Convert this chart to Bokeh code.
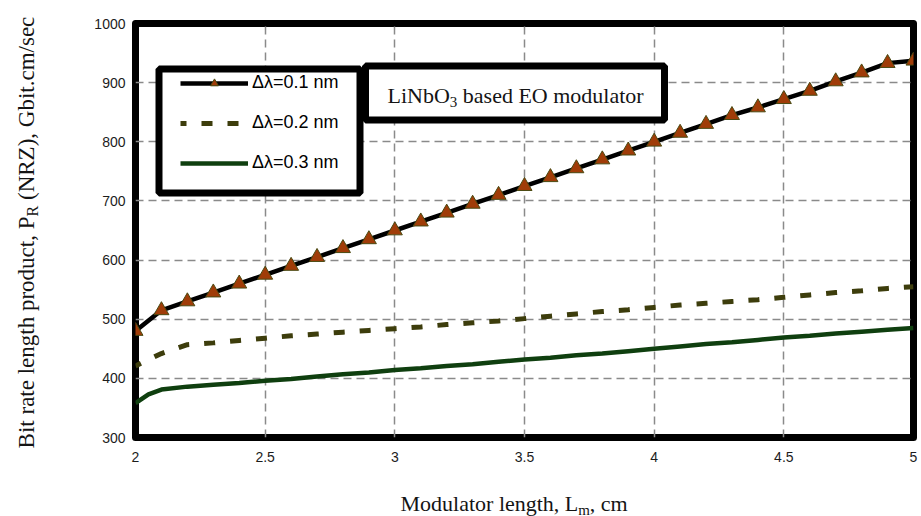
from math import pi

from bokeh.core.properties import value
from bokeh.embed import file_html
from bokeh.layouts import column, row
from bokeh.models import (BoxAnnotation, CustomJSTickFormatter, FixedTicker,
                          Label, Legend, LegendItem, Range1d)
from bokeh.plotting import figure
from bokeh.resources import INLINE

# ---------------------------------------------------------------- data
# Modulator length L_m (cm)
length_cm = [2.0, 2.1, 2.2, 2.3, 2.4, 2.5, 2.6, 2.7, 2.8, 2.9, 3.0,
             3.1, 3.2, 3.3, 3.4, 3.5, 3.6, 3.7, 3.8, 3.9, 4.0,
             4.1, 4.2, 4.3, 4.4, 4.5, 4.6, 4.7, 4.8, 4.9, 5.0]

# Bit rate length product P_R (NRZ), Gbit.cm/sec
pr_01nm = [480, 515, 530, 545, 560, 575, 590, 605, 620, 635, 650,
           665, 680, 695, 710, 725, 740, 755, 770, 785, 800,
           815, 830, 845, 858, 872, 886, 902, 917, 933, 937]

pr_02nm = [421, 442, 457, 460, 464, 468, 472, 475, 478, 481, 484,
           487, 491, 494, 497, 501, 505, 509, 513, 516, 520,
           524, 527, 530, 533, 537, 541, 545, 548, 552, 555]

length_cm_03 = [2.0, 2.05, 2.1, 2.2, 2.3, 2.4, 2.5, 2.6, 2.7, 2.8, 2.9, 3.0,
                3.1, 3.2, 3.3, 3.4, 3.5, 3.6, 3.7, 3.8, 3.9, 4.0,
                4.1, 4.2, 4.3, 4.4, 4.5, 4.6, 4.7, 4.8, 4.9, 5.0]
pr_03nm = [358, 373, 381, 386, 389, 392, 396, 399, 403, 407, 410, 414,
           417, 421, 424, 428, 432, 435, 439, 442, 446, 450,
           454, 458, 461, 465, 469, 472, 476, 479, 482, 485]

series_labels = ["Δλ=0.1 nm", "Δλ=0.2 nm", "Δλ=0.3 nm"]
x_ticks = [2, 2.5, 3, 3.5, 4, 4.5, 5]
y_ticks = [300, 400, 500, 600, 700, 800, 900, 1000]

# ---------------------------------------------------------------- layout
W, H = 921, 516
YLAB_W = 45          # strip at the left holding the vertical axis title
XLAB_H = 46          # strip at the bottom holding the horizontal axis title
MAIN_W, MAIN_H = W - YLAB_W, H - XLAB_H

B_LEFT, B_RIGHT, B_TOP, B_BOTTOM = 90, 8, 23, 33
X0, X1, Y0, Y1 = 2, 5, 300, 1000

FRAME_W = MAIN_W - B_LEFT - B_RIGHT
FRAME_H = MAIN_H - B_TOP - B_BOTTOM
FRAME_X = YLAB_W + B_LEFT          # canvas column of the frame's left edge
FRAME_Y = MAIN_H - B_BOTTOM        # canvas row of the frame's bottom edge


def px_x(sx):
    """Canvas pixel column -> data x of the main plot."""
    return X0 + (sx - FRAME_X) * (X1 - X0) / FRAME_W


def px_y(sy):
    """Canvas pixel row (from top) -> data y of the main plot."""
    return Y0 + (FRAME_Y - sy) * (Y1 - Y0) / FRAME_H


p = figure(width=MAIN_W, height=MAIN_H, output_backend="svg",
           toolbar_location=None,
           x_range=Range1d(X0, X1), y_range=Range1d(Y0, Y1),
           min_border_left=B_LEFT, min_border_right=B_RIGHT,
           min_border_top=B_TOP, min_border_bottom=B_BOTTOM)

p.background_fill_color = "white"
p.border_fill_color = "white"
p.outline_line_color = "black"
p.outline_line_width = 7
p.outline_line_join = "round"

for ax in (p.xaxis[0], p.yaxis[0]):
    ax.axis_line_color = None
    ax.major_tick_line_color = None
    ax.minor_tick_line_color = None
    ax.major_tick_out = 0
    ax.major_tick_in = 0
    ax.major_label_text_font = "Liberation Sans"
    ax.major_label_text_font_size = "14px"
    ax.major_label_text_color = "#1c1c1c"

p.xaxis[0].ticker = FixedTicker(ticks=x_ticks)
p.yaxis[0].ticker = FixedTicker(ticks=y_ticks)
p.xaxis[0].formatter = CustomJSTickFormatter(code="return tick.toString()")
p.yaxis[0].formatter = CustomJSTickFormatter(code="return tick.toString()")
p.xaxis[0].major_label_standoff = 14
p.yaxis[0].major_label_standoff = 10

for g in (p.xgrid[0], p.ygrid[0]):
    g.grid_line_color = "#8a8a8a"
    g.grid_line_width = 1.5
    g.grid_line_dash = "8 5"

# ---------------------------------------------------------------- series
r1_line = p.line(length_cm, pr_01nm, line_color="black", line_width=4.5,
                 line_join="round")
r1_pts = p.scatter(length_cm, pr_01nm, marker="triangle", size=15,
                   fill_color="#a03c08", line_color="#4a4a12", line_width=1)
r2 = p.line(length_cm, pr_02nm, line_color="#3d3d0c", line_width=5,
            line_dash="11 15", line_dash_offset=5)
r3 = p.line(length_cm_03, pr_03nm, line_color="#0f3f0f", line_width=4.5,
            line_join="round")

# ---------------------------------------------------------------- legend
legend_box = BoxAnnotation(left=px_x(158.5), right=px_x(359.5),
                           top=px_y(68.5), bottom=px_y(192.5),
                           fill_color="white", fill_alpha=1.0,
                           line_color="black", line_width=7, line_alpha=1.0)
p.add_layout(legend_box)

legend = Legend(items=[
    LegendItem(label=value(series_labels[0]), renderers=[r1_line, r1_pts]),
    LegendItem(label=value(series_labels[1]), renderers=[r2]),
    LegendItem(label=value(series_labels[2]), renderers=[r3]),
], location=(180 - FRAME_X, FRAME_Y - 173))
legend.padding = 0
legend.margin = 0
legend.spacing = 19
legend.glyph_width = 68
legend.glyph_height = 20
legend.label_height = 20
legend.label_standoff = 4
legend.border_line_color = None
legend.background_fill_alpha = 0
legend.label_text_font = "Liberation Sans"
legend.label_text_font_size = "18px"
legend.label_text_color = "black"
p.add_layout(legend)

# ---------------------------------------------------------------- title box
title_box = BoxAnnotation(left=px_x(365), right=px_x(664),
                          top=px_y(65.5), bottom=px_y(119.5),
                          fill_color="white", fill_alpha=1.0,
                          line_color="black", line_width=7, line_alpha=1.0)
p.add_layout(title_box)

SERIF = "Liberation Serif"
INK = "#141414"


def add_text(fig, x, y, text, size, angle=0.0):
    """Serif text whose anchor (x, y) is the vertical middle of the line."""
    fig.add_layout(Label(x=x, y=y, text=text, angle=angle,
                         text_font=SERIF, text_font_size=f"{size}px",
                         text_color=INK, text_align="left",
                         text_baseline="middle"))


# "LiNbO3 based EO modulator"  (word gap of 0.25 em before "based")
add_text(p, px_x(387.0), px_y(95), "LiNbO", 22)
add_text(p, px_x(449.3), px_y(101), "3", 15)
add_text(p, px_x(462.3), px_y(95), "based EO modulator", 22)


def strip(width, height, borders, x_start, x_end, y_bottom, y_top):
    """Blank figure whose data coordinates equal canvas pixels."""
    left, right = borders
    f = figure(width=width, height=height, output_backend="svg",
               toolbar_location=None, title=None,
               x_axis_location=None, y_axis_location=None,
               x_range=Range1d(x_start, x_end),
               y_range=Range1d(y_bottom, y_top),
               min_border_left=left, min_border_right=right,
               min_border_top=0, min_border_bottom=0)
    f.outline_line_color = None
    f.background_fill_color = "white"
    f.border_fill_color = "white"
    f.grid.visible = False
    return f


# x-axis title: "Modulator length, Lm, cm"
# (its frame lines up with the main plot's frame inside the column)
xlab = strip(MAIN_W, XLAB_H, (B_LEFT, B_RIGHT),
             FRAME_X, FRAME_X + FRAME_W, H, MAIN_H)
add_text(xlab, 400.0, 503, "Modulator length, L", 22)
add_text(xlab, 577.8, 509, "m", 15)
add_text(xlab, 589.3, 503, ", cm", 22)

# y-axis title: "Bit rate length product, PR (NRZ), Gbit.cm/sec"
ylab = strip(YLAB_W, H, (0, 0), 0, YLAB_W, H, 0)
add_text(ylab, 25.6, 447.9, "Bit rate length product, P", 23, angle=pi / 2)
add_text(ylab, 32, 216.0, "R", 16, angle=pi / 2)
add_text(ylab, 25.6, 199.5, "(NRZ), Gbit.cm/sec", 23, angle=pi / 2)

page = row(ylab, column(p, xlab, spacing=0), spacing=0)

open("out.html", "w").write(file_html(page, INLINE))
